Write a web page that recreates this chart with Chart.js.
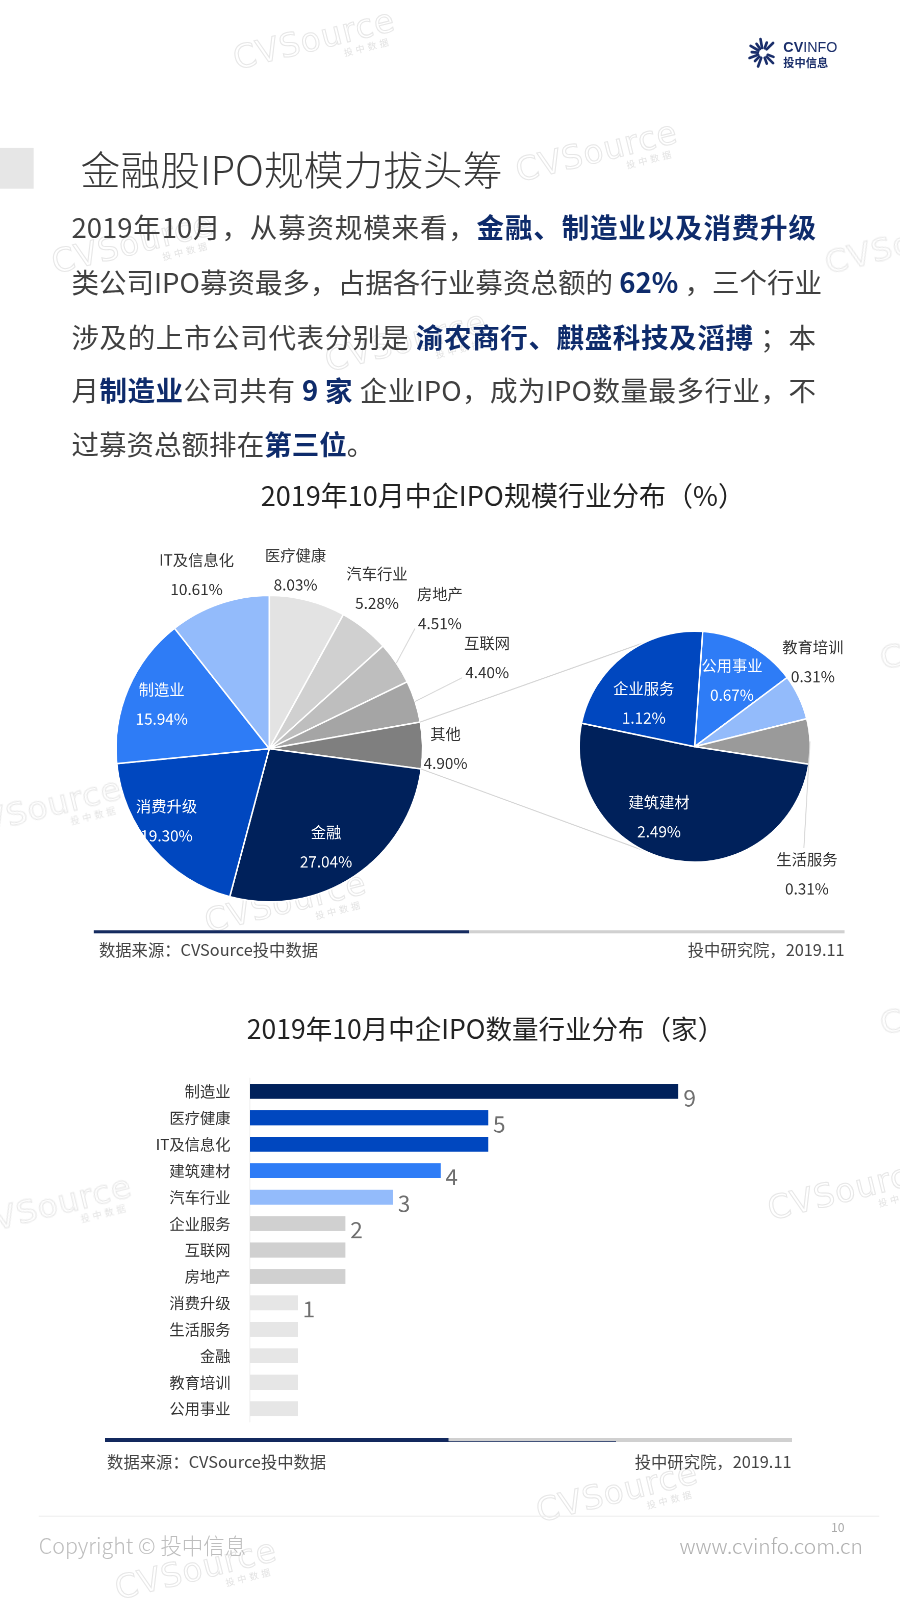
<!DOCTYPE html>
<html>
<head>
<meta charset="utf-8">
<script src="https://cdn.jsdelivr.net/npm/chart.js@4.4.1/dist/chart.umd.min.js"></script>
<style>
html,body{margin:0;padding:0;background:#fff;}
body{width:900px;height:1600px;position:relative;overflow:hidden;font-family:"Noto Sans CJK SC","Noto Sans",sans-serif;color:#404040;}
#page{position:absolute;left:0;top:0;width:900px;height:1600px;transform:scale(1.02);transform-origin:0 0;}
.abs{position:absolute;}
.wm{position:absolute;transform:rotate(-14deg);transform-origin:center;white-space:nowrap;pointer-events:none;}
.wm .a{font-family:"DejaVu Sans",sans-serif;font-size:32px;letter-spacing:1px;color:transparent;-webkit-text-stroke:1px #e7e7e7;line-height:32px;}
.wm .b{font-size:9px;color:#e3e3e3;text-align:right;margin-right:8px;letter-spacing:3px;line-height:10px;}
.para{position:absolute;left:70px;width:730px;height:40px;line-height:40px;font-size:27px;color:#404040;white-space:nowrap;text-align:justify;text-align-last:justify;}
.para b{color:#0e2b6b;font-weight:700;}
.ctitle{position:absolute;left:0;width:900px;text-align:center;font-size:26.5px;color:#222;line-height:36px;white-space:nowrap;}
.src{position:absolute;font-size:16px;color:#444;line-height:20px;white-space:nowrap;}
canvas{position:absolute;}
</style>
</head>
<body>
<div id="page">

<!-- watermarks (behind everything) -->
<div id="wms"></div>

<!-- header logo -->
<svg class="abs" style="left:732px;top:36px" width="32" height="32" viewBox="0 0 32 32">
  <g stroke="#1b2f6b" stroke-width="2.6" stroke-linecap="round" id="rays"></g>
</svg>
<div class="abs" style="left:768px;top:38px;font-family:'Liberation Sans',sans-serif;font-size:14px;line-height:16px;color:#1b2f6b;"><b>CV</b>INFO</div>
<div class="abs" style="left:768px;top:55px;font-size:11px;line-height:13px;color:#1b2f6b;font-weight:700;">投中信息</div>

<!-- page title -->
<div class="abs" style="left:0;top:145px;width:33px;height:40px;background:#e6e6e6;"></div>
<div class="abs" style="left:79px;top:139px;font-size:39px;line-height:50px;font-weight:300;color:#383838;white-space:nowrap;">金融股IPO规模力拔头筹</div>

<!-- paragraph -->
<div class="para" style="top:202px;">2019年10月，从募资规模来看，<b>金融、制造业以及消费升级</b></div>
<div class="para" style="top:256px;">类公司IPO募资最多，占据各行业募资总额的 <b>62%</b> ，三个行业</div>
<div class="para" style="top:310px;">涉及的上市公司代表分别是 <b>渝农商行、麒盛科技及滔搏</b> ；本</div>
<div class="para" style="top:362px;">月<b>制造业</b>公司共有 <b>9 家</b> 企业IPO，成为IPO数量最多行业，不</div>
<div class="para" style="top:415px;text-align:left;text-align-last:left;">过募资总额排在<b>第三位</b>。</div>

<!-- chart 1 -->
<div class="ctitle" style="top:467px;left:43px;">2019年10月中企IPO规模行业分布（%）</div>
<canvas id="pieMain" width="900" height="400" style="left:0;top:505px;"></canvas>
<canvas id="pieSub" width="900" height="400" style="left:0;top:505px;"></canvas>

<!-- chart 2 -->
<div class="ctitle" style="top:990px;left:26px;font-size:26px;">2019年10月中企IPO数量行业分布（家）</div>
<canvas id="bar" width="900" height="393" style="left:0;top:1029px;"></canvas>

<div class="abs" style="left:92px;top:912px;width:368px;height:3px;background:#13295e;"></div>
<div class="abs" style="left:460px;top:912px;width:368px;height:3px;background:#d0d0d0;"></div>
<div class="src" style="left:97px;top:920px;">数据来源：CVSource投中数据</div>
<div class="src" style="right:72px;top:920px;">投中研究院，2019.11</div>

<div class="abs" style="left:103px;top:1410px;width:337px;height:3px;background:#13295e;"></div>
<div class="abs" style="left:440px;top:1410px;width:336px;height:3px;background:#d0d0d0;"></div>
<div class="src" style="left:105px;top:1422px;">数据来源：CVSource投中数据</div>
<div class="src" style="right:124px;top:1422px;">投中研究院，2019.11</div>

<!-- footer -->
<div class="abs" style="left:38px;top:1486px;width:824px;height:1px;background:#eeeeee;"></div>
<div class="abs" style="right:72px;top:1490px;font-size:12px;color:#aaa;line-height:14px;">10</div>
<div class="abs" style="left:38px;top:1501px;font-size:21px;color:#bdbdbd;line-height:28px;font-weight:300;">Copyright © 投中信息</div>
<div class="abs" style="right:54px;top:1501px;font-size:20.5px;color:#b0b0b0;line-height:28px;font-weight:300;">www.cvinfo.com.cn</div>

</div>
<script>
// ---------------- data ----------------
const pieLabels = ['医疗健康','汽车行业','房地产','互联网','其他','金融','消费升级','制造业','IT及信息化'];
const pieValues = [8.03, 5.28, 4.51, 4.40, 4.90, 27.04, 19.30, 15.94, 10.61];

const subLabels = ['公用事业','教育培训','生活服务','建筑建材','企业服务'];
const subValues = [0.67, 0.31, 0.31, 2.49, 1.12];

const barLabels = ['制造业','医疗健康','IT及信息化','建筑建材','汽车行业','企业服务','互联网','房地产','消费升级','生活服务','金融','教育培训','公用事业'];
const barValues = [9, 5, 5, 4, 3, 2, 2, 2, 1, 1, 1, 1, 1];

// ---------------- styles ----------------
const NAVY = '#00215b', BLUE = '#0047bf', MID = '#2e7cf6', LIGHT = '#93bbfb';
const pieColors = ['#e3e3e3','#d0d0d0','#bebebe','#a5a5a5','#7f7f7f', NAVY, BLUE, MID, LIGHT];
const subColors = [MID, LIGHT, '#9a9a9a', NAVY, BLUE];
const barColors = [NAVY, BLUE, BLUE, MID, LIGHT, '#d0d0d0','#d0d0d0','#d0d0d0','#e6e6e6','#e6e6e6','#e6e6e6','#e6e6e6','#e6e6e6'];

// label placement: k = radius factor, da = angle shift (deg), c = colour, lead = leader type
const mainLabelStyle = [
  {k:1.18, da:-6.1, c:'#333'},
  {k:1.26, da:-4.5, c:'#333'},
  {k:1.44, da:-5.4, c:'#333', lead:'left'},
  {k:1.54, da:-4.7, c:'#333', lead:'left'},
  {k:1.15, da:1.2,  c:'#333'},
  {k:0.74, da:3.7,  c:'#fff'},
  {k:0.82, da:5.2,  c:'#fff'},
  {k:0.76, da:-0.6, c:'#fff'},
  {k:1.23, da:-3.6, c:'#333'}
];
const subLabelStyle = [
  {k:0.66, da:0.7,   c:'#fff'},
  {k:1.26, da:-10.3, c:'#333'},
  {k:1.47, da:51.2,  c:'#333', lead:'top'},
  {k:0.68, da:16.7,  c:'#fff'},
  {k:0.58, da:-12.2, c:'#fff'}
];

// watermarks (decoration)
const wmPos = [[228,22],[505,132],[50,222],[808,222],[318,318],[-40,775],[862,610],[200,868],[862,968],[-30,1165],[752,1150],[525,1446],[112,1522]];
const wmWrap = document.getElementById('wms');
wmPos.forEach(([x,y])=>{
  const d = document.createElement('div');
  d.className = 'wm';
  d.style.left = x+'px'; d.style.top = y+'px';
  d.innerHTML = '<div class="a">CVSource</div><div class="b">投中数据</div>';
  wmWrap.appendChild(d);
});

// logo rays
(function(){
  const g = document.getElementById('rays');
  const angs = [200,225,250,275,300,325,350,20,45,160,135,110];
  angs.forEach((a,i)=>{
    const r = a*Math.PI/180;
    const r0 = 5, r1 = (i%2===0)?14:11;
    const l = document.createElementNS('http://www.w3.org/2000/svg','line');
    l.setAttribute('x1', 16+Math.sin(r)*r0); l.setAttribute('y1', 16-Math.cos(r)*r0);
    l.setAttribute('x2', 16+Math.sin(r)*r1); l.setAttribute('y2', 16-Math.cos(r)*r1);
    g.appendChild(l);
  });
})();

Chart.defaults.font.family = '"Noto Sans CJK SC","Noto Sans",sans-serif';

const arcLabelPlugin = {
  id: 'arcLabels',
  afterDatasetsDraw(chart, args, opts) {
    const ctx = chart.ctx;
    const meta = chart.getDatasetMeta(0);
    const names = chart.data.labels;
    const vals = chart.data.datasets[0].data;
    const gap = opts.gap || 29;
    meta.data.forEach((arc, i) => {
      const st = opts.styles[i];
      const p = arc.getProps(['x','y','startAngle','endAngle','outerRadius'], true);
      const m0 = (p.startAngle + p.endAngle) / 2;
      const m = m0 + st.da * Math.PI / 180;
      const lx = p.x + Math.cos(m) * p.outerRadius * st.k;
      const ly = p.y + Math.sin(m) * p.outerRadius * st.k;
      const pct = vals[i].toFixed(2) + '%';
      ctx.save();
      ctx.font = '15px "Noto Sans CJK SC"';
      ctx.textAlign = 'center';
      ctx.textBaseline = 'middle';
      if (st.lead) {
        const ox = p.x + Math.cos(m0) * p.outerRadius;
        const oy = p.y + Math.sin(m0) * p.outerRadius;
        let ex, ey;
        if (st.lead === 'left') {
          ex = lx - ctx.measureText(pct).width / 2 - 3;
          ey = ly + gap / 2 + 5;
        } else {
          ex = lx - 3;
          ey = ly - gap / 2 - 11;
        }
        ctx.strokeStyle = '#d9d9d9';
        ctx.lineWidth = 1;
        ctx.beginPath(); ctx.moveTo(ox, oy); ctx.lineTo(ex, ey); ctx.stroke();
      }
      ctx.fillStyle = st.c;
      ctx.fillText(names[i], lx, ly - gap / 2);
      ctx.fillText(pct, lx, ly + gap / 2);
      ctx.restore();
    });
  }
};

const mainChart = new Chart(document.getElementById('pieMain'), {
  type: 'pie',
  data: { labels: pieLabels, datasets: [{ data: pieValues, backgroundColor: pieColors, borderColor: '#ffffff', borderWidth: 1.5 }] },
  options: {
    responsive: false, animation: false, devicePixelRatio: 2,
    layout: { padding: { left: 113, right: 485, top: 78, bottom: 20 } },
    plugins: { legend: { display: false }, tooltip: { enabled: false },
      arcLabels: { styles: mainLabelStyle, gap: 29 } }
  },
  plugins: [arcLabelPlugin]
});

const connectorPlugin = {
  id: 'connector',
  beforeDatasetsDraw(chart) {
    const src = mainChart.getDatasetMeta(0).data[4].getProps(['x','y','startAngle','endAngle','outerRadius'], true);
    const dst = chart.getDatasetMeta(0).data[0].getProps(['x','y','outerRadius'], true);
    const ctx = chart.ctx;
    const a1 = -115 * Math.PI / 180, a2 = 115 * Math.PI / 180;
    ctx.save();
    ctx.strokeStyle = '#d4d4d4';
    ctx.lineWidth = 1;
    ctx.beginPath();
    ctx.moveTo(src.x + Math.cos(src.startAngle) * src.outerRadius, src.y + Math.sin(src.startAngle) * src.outerRadius);
    ctx.lineTo(dst.x + Math.cos(a1) * dst.outerRadius, dst.y + Math.sin(a1) * dst.outerRadius);
    ctx.moveTo(src.x + Math.cos(src.endAngle) * src.outerRadius, src.y + Math.sin(src.endAngle) * src.outerRadius);
    ctx.lineTo(dst.x + Math.cos(a2) * dst.outerRadius, dst.y + Math.sin(a2) * dst.outerRadius);
    ctx.stroke();
    ctx.restore();
  }
};

const subChart = new Chart(document.getElementById('pieSub'), {
  type: 'pie',
  data: { labels: subLabels, datasets: [{ data: subValues, backgroundColor: subColors, borderColor: '#ffffff', borderWidth: 1.5 }] },
  options: {
    responsive: false, animation: false, rotation: 4, devicePixelRatio: 2,
    layout: { padding: { left: 567, right: 105, top: 113, bottom: 59 } },
    plugins: { legend: { display: false }, tooltip: { enabled: false },
      arcLabels: { styles: subLabelStyle, gap: 29 } }
  },
  plugins: [connectorPlugin, arcLabelPlugin]
});

const barValuePlugin = {
  id: 'barValues',
  afterDatasetsDraw(chart) {
    const ctx = chart.ctx;
    const meta = chart.getDatasetMeta(0);
    const vals = chart.data.datasets[0].data;
    ctx.save();
    ctx.font = '22px "Noto Sans CJK SC"';
    ctx.fillStyle = '#6f6f6f';
    ctx.textAlign = 'left';
    ctx.textBaseline = 'middle';
    meta.data.forEach((bar, i) => {
      if (i > 0 && vals[i] === vals[i - 1]) return;
      ctx.fillText(String(vals[i]), bar.x + 5, bar.y + 6);
    });
    ctx.restore();
  }
};

new Chart(document.getElementById('bar'), {
  type: 'bar',
  data: { labels: barLabels, datasets: [{ data: barValues, backgroundColor: barColors, borderWidth: 0, barThickness: 14 }] },
  options: {
    indexAxis: 'y', responsive: false, animation: false, devicePixelRatio: 2,
    layout: { padding: { left: 0, right: 235, top: 12, bottom: 12 } },
    plugins: { legend: { display: false }, tooltip: { enabled: false } },
    scales: {
      x: { display: false, min: 0, max: 9 },
      y: {
        grid: { display: false, drawTicks: false },
        border: { display: true, color: '#f0f0f0' },
        ticks: { color: '#333', font: { size: 15 }, padding: 19 },
        afterFit(s) { s.width = 245; }
      }
    }
  },
  plugins: [barValuePlugin]
});
</script>
</body>
</html>
